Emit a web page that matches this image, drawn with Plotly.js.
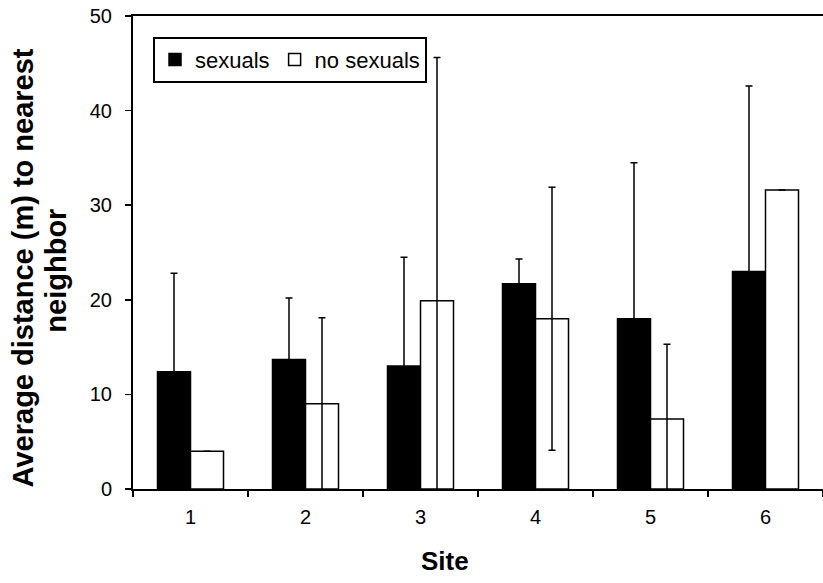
<!DOCTYPE html>
<html>
<head>
<meta charset="utf-8">
<script src="https://cdn.plot.ly/plotly-3.0.1.min.js"></script>
<style>html,body{margin:0;padding:0;background:#fff;}#chart{width:823px;height:583px;}</style>
</head>
<body>
<div id="chart"></div>
<script>
var sites = ["1", "2", "3", "4", "5", "6"];
var sexuals = [12.4, 13.7, 13.0, 21.7, 18.0, 23.0];
var sexualsErr = [10.4, 6.5, 11.5, 2.6, 16.5, 19.6];
var noSexuals = [4.0, 9.0, 19.9, 18.0, 7.4, 31.6];
var noSexualsErr = [null, 9.1, 25.7, 13.9, 7.9, null];
var yTicks = [0, 10, 20, 30, 40, 50];

var FONT = "Liberation Sans, Arial, sans-serif";

var traces = [
  {
    type: "bar", name: "sexuals", x: sites, y: sexuals,
    marker: {color: "#000000", line: {color: "#000000", width: 1.5}},
    error_y: {type: "data", array: sexualsErr, symmetric: true, color: "#000000", thickness: 1.5, width: 3.5}
  },
  {
    type: "bar", name: "no sexuals", x: sites, y: noSexuals,
    marker: {color: "#ffffff", line: {color: "#000000", width: 1.5}},
    error_y: {type: "data", array: noSexualsErr, symmetric: true, color: "#000000", thickness: 1.5, width: 3.5}
  }
];

var layout = {
  width: 823, height: 583,
  margin: {l: 133, r: 0, t: 16, b: 94},
  paper_bgcolor: "#ffffff", plot_bgcolor: "#ffffff",
  font: {family: FONT, color: "#000000", size: 20},
  barmode: "group", bargap: 0.426, bargroupgap: 0,
  showlegend: true,
  legend: {
    orientation: "h", x: 0.029, y: 0.956, xanchor: "left", yanchor: "top",
    bordercolor: "#000000", borderwidth: 2, bgcolor: "#ffffff",
    font: {family: FONT, size: 22, color: "#000000"},
    traceorder: "normal"
  },
  xaxis: {
    type: "category", range: [-0.5, 5.5],
    showline: true, linecolor: "#000000", linewidth: 2, mirror: true,
    ticks: "outside", tickson: "boundaries", ticklen: 6, tickwidth: 1.5, tickcolor: "#000000",
    ticklabelstandoff: 9,
    showgrid: false, zeroline: false,
    tickfont: {family: FONT, size: 20, color: "#000000"}
  },
  yaxis: {
    range: [0, 50], tickvals: yTicks, ticktext: yTicks.map(String),
    showline: true, linecolor: "#000000", linewidth: 2,
    ticks: "outside", ticklen: 6, tickwidth: 1.5, tickcolor: "#000000",
    ticklabelstandoff: 9,
    showgrid: false, zeroline: false,
    tickfont: {family: FONT, size: 20, color: "#000000"}
  },
  annotations: [
    {text: "<b>Average distance (m) to nearest</b>", xref: "paper", yref: "paper",
     x: -0.159, y: 0.467, xanchor: "center", yanchor: "middle", textangle: -90, showarrow: false,
     font: {family: FONT, size: 29, color: "#000000"}},
    {text: "<b>neighbor</b>", xref: "paper", yref: "paper",
     x: -0.112, y: 0.461, xanchor: "center", yanchor: "middle", textangle: -90, showarrow: false,
     font: {family: FONT, size: 29, color: "#000000"}},
    {text: "<b>Site</b>", xref: "paper", yref: "paper",
     x: 0.452, y: -0.152, xanchor: "center", yanchor: "middle", showarrow: false,
     font: {family: FONT, size: 26, color: "#000000"}}
  ]
};

Plotly.newPlot("chart", traces, layout, {displayModeBar: false, staticPlot: true});
</script>
</body>
</html>
